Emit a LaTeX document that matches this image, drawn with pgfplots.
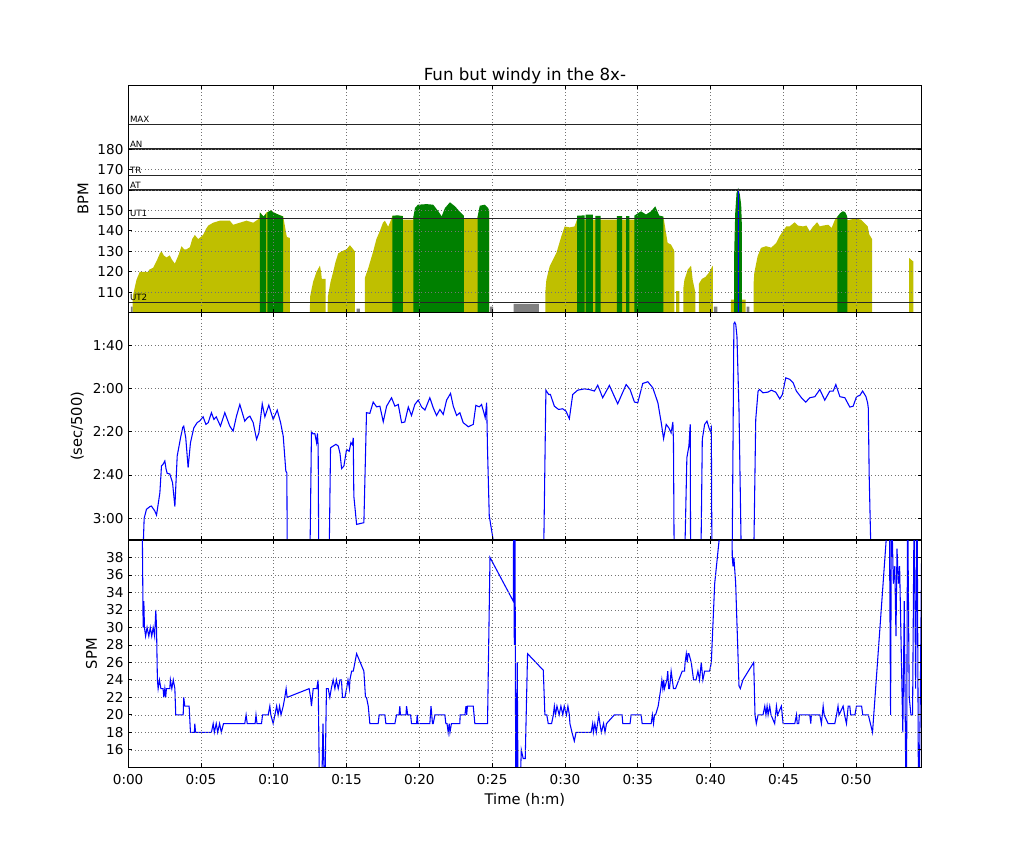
\documentclass[border=0pt]{standalone}
\usepackage{fontspec}
\setmainfont{DejaVu Sans}
\usepackage{pgfplots}
\pgfplotsset{compat=1.18}
\definecolor{zolive}{RGB}{191,191,0}
\definecolor{zgreen}{RGB}{0,128,0}
\definecolor{zgray}{RGB}{128,128,128}
\pgfplotsset{
  panel/.style={
    scale only axis, width=595.2pt, height=170.5pt,
    xmin=0, xmax=54.5, xtick={0,5,...,50},
    grid=major,
    major grid style={black!55, line width=0.5pt, dash pattern=on 0.6pt off 1.9pt},
    axis on top,
    axis line style={line width=0.75pt},
    tick style={black, line width=0.6pt},
    major tick length=3pt,
    tick label style={font=\fontsize{10.2}{12}\selectfont},
    xticklabel style={yshift=-1.5pt},
    label style={font=\fontsize{11}{13}\selectfont},
    /pgf/number format/assume math mode=true,
  },
  zoneline/.style={black!85, line width=1.2pt, forget plot},
}
\tikzset{zonelabel/.style={anchor=south west, font=\fontsize{6.5}{7}\selectfont, inner sep=1.2pt}}
\begin{document}
\begin{tikzpicture}
\useasboundingbox (-96.1pt,-64.3pt) rectangle (671.9pt,575.5pt);

% ---------------- Heart rate ----------------
\begin{axis}[panel, at={(0,341pt)}, ymin=100, ymax=211.2,
  ytick={110,120,...,180}, xticklabels={}, ylabel={BPM},
  title={Fun but windy in the 8x-},
  title style={font=\fontsize{12.5}{14}\selectfont, yshift=-8.5pt}]
\addplot[fill=zolive, draw=none] coordinates {
(0.30,100) (0.32,108) (0.57,116) (0.8,120) (1.37,120) (1.45,121) (1.72,122) (2.0,126) (2.18,129) (2.29,130) (2.45,128) (2.63,127) (2.86,128) (3.0,126) (3.21,124) (3.45,128) (3.66,132.5) (3.85,131) (4.01,131) (4.24,132) (4.4,136) (4.58,138) (4.81,136) (5.15,138) (5.35,141) (5.5,142.6) (5.84,144) (6.3,145) (6.98,145) (7.21,143) (7.67,144) (8.13,145) (8.59,144) (9.0,146) (9.05,149) (9.3,147) (9.5,149) (9.8,150) (10.0,149) (10.3,148) (10.65,147) (10.75,143) (10.9,137) (11.11,136.5) (11.11,100)
(12.48,100) (12.5,108) (12.7,115) (12.94,120) (13.17,123) (13.25,120) (13.3,116.5) (13.56,116.5) (13.56,100)
(13.69,100) (13.72,108) (13.9,115) (14.08,120) (14.25,125) (14.43,129) (14.66,130) (15.0,131) (15.23,133) (15.46,131) (15.57,130) (15.57,100)
(16.26,100) (16.26,117) (16.5,122) (16.83,130) (17.05,136) (17.29,140) (17.5,144) (17.63,145) (17.86,142) (18.09,146) (18.15,147.4) (18.86,147.4) (18.86,145.5) (19.59,145.5) (19.59,147) (23.06,147.4) (23.06,145.8) (23.97,145.8) (24.0,147) (24.79,150) (24.79,100)
(28.65,100) (28.65,110) (28.72,116) (28.95,122.7) (29.18,126) (29.41,129.2) (29.75,137.3) (29.98,142.2) (30.32,141.7) (30.66,142.2) (30.82,145.5) (36.76,145.5) (36.76,147) (36.83,143.9) (37.05,134.1) (37.28,133.3) (37.47,130.8) (37.51,130) (37.51,100)
(37.63,100) (37.63,110.5) (37.85,110.5) (37.85,100)
(38.13,100) (38.13,112) (38.2,116) (38.43,121) (38.66,123) (38.77,116) (38.95,110) (38.95,100)
(39.19,100) (39.19,114) (39.4,116.5) (39.65,117.5) (39.88,119.5) (40.1,122.4) (40.16,123) (40.16,100)
(41.39,100) (41.39,106.4) (42.4,106.4) (42.4,100)
(42.96,100) (42.96,115) (43.0,119.4) (43.23,127.6) (43.46,131.7) (43.81,132.5) (44.16,131.8) (44.5,134) (44.73,137.3) (44.96,139.8) (45.2,142.2) (45.43,142.2) (45.77,144.2) (46.0,142.6) (46.35,142.2) (46.58,142.6) (46.81,139.8) (47.04,142.2) (47.32,144.2) (47.5,142.2) (47.73,142.6) (48.08,143) (48.31,141.4) (48.54,145.5) (48.71,147) (49.4,146) (49.4,145.2) (49.76,145.8) (50.1,145.8) (50.33,145.5) (50.56,143.9) (50.79,142.2) (50.9,138.2) (51.09,136) (51.09,100)
(53.63,100) (53.63,126.8) (53.75,126) (53.93,125) (53.93,100)
} \closedcycle;
\addplot[fill=zgreen, draw=none] coordinates {
(9.05,100) (9.05,149) (9.3,147) (9.48,148.5) (9.48,100)
(9.56,100) (9.56,149) (9.8,150) (10.0,149) (10.3,148) (10.65,147) (10.65,100)
(18.15,100) (18.15,147.4) (18.5,147.6) (18.86,147.2) (18.86,100)
(19.59,100) (19.59,147) (19.7,151.2) (19.9,152.8) (20.5,153.1) (20.95,152.8) (21.3,149.6) (21.53,147.1) (21.76,151.2) (22.1,154) (22.45,152) (22.8,149.2) (23.06,147.4) (23.06,100)
(24.0,100) (24.0,147) (24.15,152.3) (24.5,152.8) (24.72,151.2) (24.79,150) (24.79,100)
(30.84,100) (30.84,147.4) (31.35,147.6) (31.35,100)
(31.42,100) (31.42,148) (31.92,148) (31.92,100)
(32.08,100) (32.08,147.4) (32.44,147.4) (32.44,100)
(33.56,100) (33.56,147.2) (33.93,147.2) (33.93,100)
(34.2,100) (34.2,147.2) (34.43,147.2) (34.43,100)
(34.77,100) (34.77,147.5) (34.88,148) (35.22,149.6) (35.56,148) (35.91,149.6) (36.2,152) (36.47,147.5) (36.76,147) (36.76,100)
(41.62,100) (41.62,129) (41.69,148.7) (41.78,158.5) (41.9,161) (42.01,157.7) (42.1,152.8) (42.15,142) (42.15,100)
(48.71,100) (48.71,147) (48.9,148.7) (49.08,149.6) (49.24,149.2) (49.36,147.4) (49.4,146) (49.4,100)
} \closedcycle;
\addplot[fill=zgray, draw=none] coordinates {
(0.18,100) (0.18,103) (0.30,103) (0.30,100)
(15.69,100) (15.69,102) (15.91,102) (15.91,100)
(24.84,100) (24.84,103) (25.07,103) (25.07,100)
(26.48,100) (26.48,104.3) (28.2,104.3) (28.2,100)
(40.23,100) (40.23,103) (40.46,103) (40.46,100)
(42.47,100) (42.47,103) (42.66,103) (42.66,100)
} \closedcycle;
\addplot[fill=blue, draw=blue, line width=0.5pt] coordinates {
(41.87,100) (41.87,160.5) (41.91,160.5) (41.91,100)
} \closedcycle;
\addplot[zoneline] coordinates {(0,192) (54.5,192)};
\addplot[zoneline] coordinates {(0,180) (54.5,180)};
\addplot[zoneline] coordinates {(0,167) (54.5,167)};
\addplot[zoneline] coordinates {(0,160) (54.5,160)};
\addplot[zoneline] coordinates {(0,146) (54.5,146)};
\addplot[zoneline] coordinates {(0,105) (54.5,105)};
\node[zonelabel] at (axis cs:0,192) {MAX};
\node[zonelabel] at (axis cs:0,180) {AN};
\node[zonelabel] at (axis cs:0,167) {TR};
\node[zonelabel] at (axis cs:0,160) {AT};
\node[zonelabel] at (axis cs:0,146) {UT1};
\node[zonelabel] at (axis cs:0,105) {UT2};
\end{axis}

% ---------------- Pace ----------------
\begin{axis}[panel, at={(0,170.5pt)}, ymin=85, ymax=190, y dir=reverse,
  ytick={100,120,140,160,180}, yticklabels={1:40,2:00,2:20,2:40,3:00},
  xticklabels={}, ylabel={(sec/500)}]
\addplot[blue, line width=0.8pt] coordinates {
(0.9,300) (1.05,190) (1.1,180) (1.26,175.8) (1.49,174.6) (1.6,174.3) (1.83,176.6) (1.95,178.5) (2.18,168.2) (2.29,155.8) (2.4,155) (2.52,153.5) (2.6,157) (2.68,159.2) (2.86,159.5) (3.05,163.5) (3.21,174.6) (3.37,151.2) (3.6,142.8) (3.75,138) (3.82,137.4) (3.96,143) (4.12,156.6) (4.28,145.1) (4.51,138.2) (4.74,135.8) (4.92,135.0) (5.15,133.1) (5.34,136.6) (5.5,135.8) (5.72,131.2) (5.89,134.3) (6.05,133.1) (6.34,137.4) (6.64,131.2) (6.98,137.4) (7.21,139.7) (7.44,132.8) (7.67,127.4) (8.01,135.1) (8.2,133.5) (8.36,132.8) (8.59,135.8) (8.82,143.5) (8.98,140.5) (9.21,127.1) (9.39,133.1) (9.66,127.7) (9.96,134.3) (10.24,130) (10.47,135.8) (10.65,142) (10.83,158.2) (10.9,159) (11.0,300)
(12.4,300) (12.5,190) (12.59,140) (12.7,141) (12.82,140.8) (12.94,145) (13.0,140.8) (13.05,146.6) (13.17,300)
(13.7,300) (13.82,190) (13.9,147.4) (14.08,146.6) (14.27,145.8) (14.43,146.6) (14.55,150) (14.66,157) (14.82,155.8) (15.0,148.2) (15.18,149) (15.3,145) (15.4,146) (15.46,142.8) (15.5,169.7) (15.69,182.8) (16.19,182) (16.37,131.2) (16.6,131.5) (16.83,126.3) (17.06,128.5) (17.29,128.2) (17.52,135.4) (17.75,128.2) (18.09,124.3) (18.32,128.2) (18.55,127.4) (18.78,135.8) (19.0,135.5) (19.24,128.6) (19.46,132.5) (19.69,127.4) (19.92,125.4) (20.15,128.5) (20.38,130) (20.72,124.3) (20.95,128.9) (21.18,132.5) (21.41,129.7) (21.64,132) (21.87,125.4) (22.14,122.3) (22.33,128.2) (22.56,132.5) (22.78,131.2) (23.01,135.8) (23.36,137.7) (23.7,136.6) (23.88,127.8) (24.11,128.5) (24.27,127.4) (24.43,131.2) (24.52,133.5) (24.62,126.6) (24.68,148) (24.8,178.9) (25.07,190) (25.2,300)
(28.45,300) (28.55,190) (28.69,120.8) (28.88,122.8) (29.0,122.8) (29.27,128.2) (29.56,129.7) (29.84,129.4) (30.07,130.5) (30.3,134) (30.53,122.8) (30.87,120.8) (31.33,120.2) (31.67,120.5) (32.02,121.2) (32.25,118.5) (32.59,124.3) (33.05,118.6) (33.62,127.1) (34.2,118.2) (34.47,120.5) (34.77,126.3) (35.0,126.6) (35.34,117.7) (35.69,116.9) (36.03,119.7) (36.38,126.6) (36.61,135.8) (36.77,143.2) (36.95,136.6) (37.13,138.2) (37.29,140.5) (37.41,135.5) (37.45,145) (37.59,300)
(38.15,300) (38.25,190) (38.37,152) (38.51,146.6) (38.6,136.6) (38.67,300)
(39.25,300) (39.35,190) (39.43,143.5) (39.59,136.6) (39.75,135.1) (39.89,138.2) (39.98,139.7) (40.05,138.2) (40.16,300)
(41.4,300) (41.49,190) (41.6,90) (41.66,89.4) (41.73,90.5) (41.81,96) (41.95,129.7) (42.09,190) (42.15,300)
(42.9,300) (42.98,190) (43.1,134.3) (43.26,121.2) (43.37,120.5) (43.6,122) (43.94,121.7) (44.17,120.8) (44.47,121.7) (44.75,124.8) (44.93,122.8) (45.16,115.1) (45.44,115.8) (45.67,117.4) (45.89,121.2) (46.24,124.3) (46.54,126.3) (46.81,124.3) (47.16,123.8) (47.5,120.5) (47.84,125.4) (48.19,121.2) (48.42,121.2) (48.6,118.2) (48.88,123.8) (49.22,124.3) (49.56,128.6) (49.79,128.2) (50.02,123.8) (50.25,123.2) (50.44,121.2) (50.67,123.8) (50.78,126.6) (50.83,129) (50.89,160) (50.99,190) (51.05,300)
};
\end{axis}

% ---------------- Stroke rate ----------------
\begin{axis}[panel, at={(0,0pt)}, ymin=14, ymax=40,
  ytick={16,18,...,38}, ylabel={SPM}, xlabel={Time (h:m)},
  xticklabels={0:00,0:05,0:10,0:15,0:20,0:25,0:30,0:35,0:40,0:45,0:50}]
\addplot[blue, line width=0.8pt] coordinates {
(0.95,45) (0.98,40) (1.03,30) (1.08,33) (1.12,30) (1.2,29) (1.3,30) (1.42,29) (1.52,30) (1.62,29) (1.72,30) (1.82,29) (1.9,32) (1.95,30) (2.01,24) (2.06,23) (2.15,24) (2.25,23) (2.4,23) (2.45,22) (2.52,23) (2.58,22) (2.63,23) (2.86,23) (2.9,24) (3.0,23) (3.1,24) (3.21,23) (3.27,20) (3.78,20) (3.82,22) (3.89,21) (4.19,21) (4.28,18) (4.55,18) (4.58,19) (4.63,18) (5.72,18) (5.84,19) (5.92,18) (6.05,19) (6.15,18) (6.28,19) (6.4,18) (6.55,19) (8.01,19) (8.1,20) (8.18,19) (8.72,19) (8.78,20) (8.85,19) (9.16,19) (9.23,20) (9.62,20) (9.73,21) (9.8,20) (9.96,19) (10.08,20) (10.2,21) (10.3,20) (10.4,21) (10.5,20) (10.65,21) (10.76,22) (10.85,23) (10.92,22) (12.43,23) (12.53,22) (12.59,21) (12.71,23) (12.95,23) (13.05,24) (13.15,10) (13.28,10) (13.38,19) (13.5,10) (13.62,23) (13.74,23) (13.85,22) (13.95,23) (14.08,24) (14.2,23) (14.3,24) (14.43,23) (14.55,24) (14.65,24) (14.72,22) (14.89,22) (15.0,23) (15.1,24) (15.2,23) (15.23,24) (15.35,25) (15.46,25) (15.69,27) (16.19,25) (16.3,22) (16.37,22) (16.49,21) (16.6,19) (17.17,19) (17.24,20) (17.63,20) (17.7,19) (18.32,19) (18.43,20) (18.6,20) (18.66,21) (18.7,20) (19.08,20) (19.12,21) (19.2,20) (19.4,20) (19.46,19) (19.81,19) (19.85,20) (19.9,19) (20.72,19) (20.8,21) (20.9,19) (20.95,19) (21.07,20) (21.75,20) (21.82,19) (21.9,19) (21.98,18) (22.05,19) (22.1,18) (22.2,19) (22.78,19) (22.8,20) (23.13,20) (23.2,21) (23.25,20) (23.3,21) (23.7,21) (23.81,19) (24.68,19) (24.85,38) (26.45,33) (26.48,45) (26.52,28) (26.56,45) (26.63,5) (26.72,26) (26.8,5) (27.0,16) (27.13,15) (27.27,15) (27.43,27) (28.51,25.1) (28.62,20) (28.75,20) (28.85,19) (29.08,19) (29.2,20) (29.27,21) (29.35,20) (29.45,21) (29.6,20) (29.72,21) (29.85,20) (29.95,21) (30.1,20) (30.2,21) (30.3,20) (30.34,19) (30.48,18) (30.64,17) (30.76,18) (31.79,18) (31.9,19) (31.95,18) (32.05,19) (32.15,18) (32.32,20) (32.4,19) (32.5,18) (32.65,19) (32.75,18) (32.85,19) (33.39,20) (33.92,20) (33.97,19) (34.47,19) (34.54,20) (35.23,20) (35.3,19) (35.92,19) (36.0,20) (36.08,19) (36.15,20) (36.22,20) (36.4,21) (36.58,23) (36.65,24) (36.72,23) (36.78,24) (36.83,23) (37.0,24) (37.06,25) (37.12,23) (37.18,23) (37.29,25) (37.45,23) (37.59,23) (38.05,25) (38.21,25) (38.25,26) (38.33,27) (38.4,26) (38.45,27) (38.51,27) (38.67,26) (38.83,24) (39.0,24) (39.13,25) (39.24,24) (39.36,26) (39.47,24) (39.59,25) (39.93,25) (40.05,26) (40.28,35) (40.89,45) (41.44,45) (41.49,38) (41.54,37) (41.6,38) (41.67,36.3) (41.72,35.1) (41.95,23.3) (42.04,23) (42.22,24) (42.96,26) (43.05,20) (43.14,19) (43.26,20) (43.6,20) (43.72,21) (43.8,20) (43.88,21) (43.95,20) (44.06,21) (44.15,20) (44.4,19) (44.52,21) (44.6,20) (44.86,21) (44.98,19) (45.78,19) (45.9,20) (45.95,19) (46.05,19) (46.1,20) (46.47,20) (46.81,20) (46.88,19) (46.92,20) (47.5,20) (47.61,19) (47.73,21) (47.8,20) (48.07,19) (48.53,19) (48.65,20) (48.75,21) (48.82,20) (49.1,21) (49.2,20) (49.33,19) (49.45,21) (49.56,21) (49.62,20) (49.91,20) (50.02,21) (50.37,21) (50.45,20) (50.83,20) (51.12,18) (52.27,45) (52.36,20) (52.42,45) (52.55,35) (52.65,37) (52.73,29) (52.8,39) (52.9,35) (52.98,37) (53.2,18) (53.3,33) (53.44,5) (53.53,45) (53.64,22) (53.76,20) (53.87,20) (53.98,45) (54.08,23) (54.18,45) (54.29,5) (54.4,22) (54.5,40)
};
\end{axis}
\end{tikzpicture}
\end{document}
